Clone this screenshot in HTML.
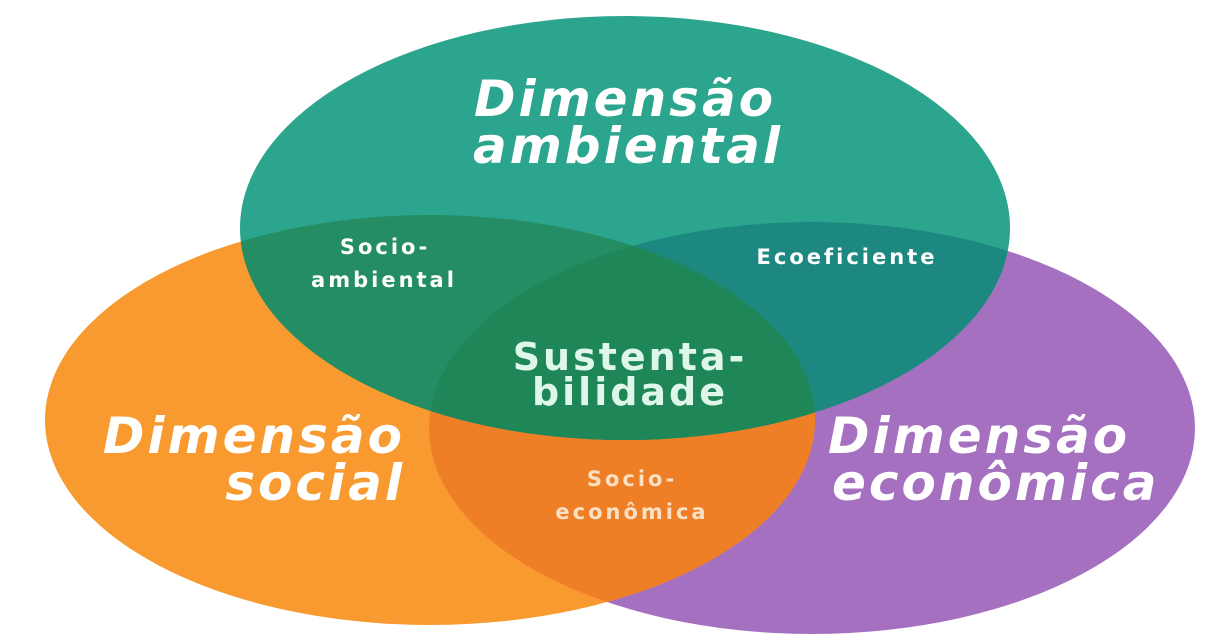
<!DOCTYPE html>
<html><head><meta charset="utf-8"><style>
html,body{margin:0;padding:0;background:#fff;width:1230px;height:644px;overflow:hidden}
text{font-family:"DejaVu Sans","Liberation Sans",sans-serif;fill:#fff}
.big{font-size:50px;font-weight:bold;font-style:italic;letter-spacing:3px}
.sm{font-size:21px;font-weight:bold;letter-spacing:3px}
.mid{font-size:38px;font-weight:bold;letter-spacing:3px;fill:#dff7ea}
</style></head><body>
<svg width="1230" height="644" viewBox="0 0 1230 644" xmlns="http://www.w3.org/2000/svg">
<defs>
<clipPath id="cG"><ellipse cx="625" cy="228" rx="385" ry="212"/></clipPath>
<clipPath id="cO"><ellipse cx="430" cy="420" rx="385" ry="205"/></clipPath>
<clipPath id="cP"><ellipse cx="812" cy="428" rx="383" ry="206"/></clipPath>
</defs>
<ellipse cx="812" cy="428" rx="383" ry="206" fill="#a570c0"/>
<ellipse cx="430" cy="420" rx="385" ry="205" fill="#f89a2f"/>
<g clip-path="url(#cP)"><ellipse cx="430" cy="420" rx="385" ry="205" fill="#ef7f27"/></g>
<ellipse cx="625" cy="228" rx="385" ry="212" fill="#2ba58d"/>
<g clip-path="url(#cG)">
<ellipse cx="430" cy="420" rx="385" ry="205" fill="#248d63"/>
<ellipse cx="812" cy="428" rx="383" ry="206" fill="#1c8880"/>
<g clip-path="url(#cO)"><ellipse cx="812" cy="428" rx="383" ry="206" fill="#1f8757"/></g>
</g>
<text class="big" x="625" y="116" text-anchor="middle">Dimensão</text>
<text class="big" x="628" y="163" text-anchor="middle">ambiental</text>
<text class="big" x="405" y="453" text-anchor="end">Dimensão</text>
<text class="big" x="405" y="500" text-anchor="end">social</text>
<text class="big" x="828" y="453">Dimensão</text>
<text class="big" x="832" y="500">econômica</text>
<text class="sm" x="385" y="254" text-anchor="middle">Socio-</text>
<text class="sm" x="384" y="287" text-anchor="middle">ambiental</text>
<text class="sm" x="847" y="264" text-anchor="middle">Ecoeficiente</text>
<text class="mid" x="630" y="370" text-anchor="middle">Sustenta-</text>
<text class="mid" x="630" y="405" text-anchor="middle">bilidade</text>
<text class="sm" x="632" y="486" text-anchor="middle" style="fill:#fbe0c4">Socio-</text>
<text class="sm" x="632" y="519" text-anchor="middle" style="fill:#fbe0c4">econômica</text>
</svg>
</body></html>
